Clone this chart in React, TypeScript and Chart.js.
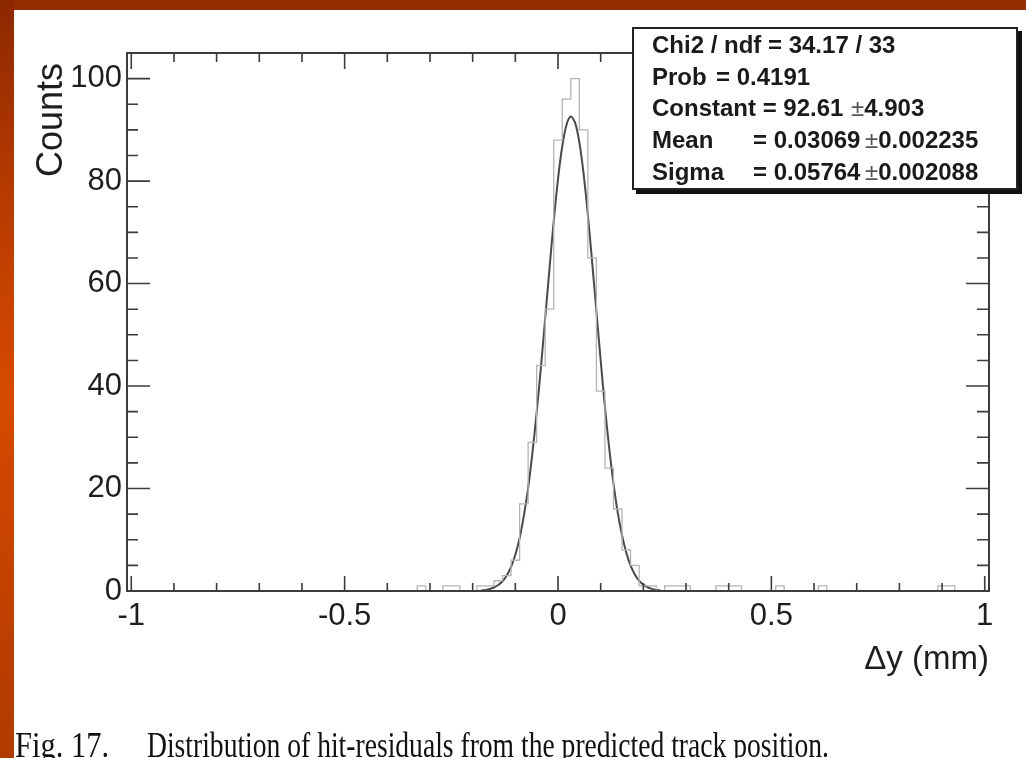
import React, { useEffect, useLayoutEffect, useRef, useState } from "react";
import { Chart, registerables } from "chart.js";

Chart.register(...registerables);

// ---------------- data ----------------
const X_MIN = -1.01;
const X_MAX = 1.01;
const Y_MIN = 0;
const Y_MAX = 105;
const BIN_WIDTH = 0.02;
const N_BINS = 101;

// non-empty histogram bins (bin centres) and their counts
const histCenters = [
  -0.32, -0.26, -0.24, -0.18, -0.16, -0.14, -0.12, -0.1, -0.08, -0.06, -0.04, -0.02,
  0, 0.02, 0.04, 0.06, 0.08, 0.1, 0.12, 0.14, 0.16, 0.18, 0.2, 0.22, 0.26, 0.28, 0.3,
  0.38, 0.4, 0.42, 0.52, 0.62, 0.9, 0.92,
];
const histCounts = [
  1, 1, 1, 1, 1, 2, 3, 6, 17, 29, 44, 55,
  88, 96, 100, 90, 65, 39, 24, 16, 8, 5, 1, 1, 1, 1, 1,
  1, 1, 1, 1, 1, 1, 1,
];

// Gaussian fit curve, read at 0.01 steps from -0.18 to 0.24
const FIT_X_START = -0.18;
const FIT_X_STEP = 0.01;
const fitValues = [
  0.12, 0.22, 0.39, 0.68, 1.16, 1.9, 3.04, 4.71, 7.09, 10.3, 14.7, 20.1, 26.9, 34.8,
  43.7, 53.2, 62.9, 72.2, 80.4, 86.8, 91.0, 92.6, 91.4, 87.6, 81.4, 73.4, 64.2, 54.6,
  45.0, 35.9, 27.9, 21.0, 15.3, 10.9, 7.49, 4.99, 3.23, 2.03, 1.24, 0.73, 0.42, 0.23, 0.13,
];

const xTickLabels = [-1, -0.5, 0, 0.5, 1];
const yTickLabels = [0, 20, 40, 60, 80, 100];
const xMinorStep = 0.1;
const yMinorStep = 5;

const statRows = [
  { name: "Chi2 / ndf = 34.17 / 33", eq: "", err: "" },
  { name: "Prob", eq: "= 0.4191", err: "" },
  { name: "Constant = 92.61", eq: "", err: "\u00b14.903" },
  { name: "Mean", eq: "= 0.03069", err: "\u00b10.002235" },
  { name: "Sigma", eq: "= 0.05764", err: "\u00b10.002088" },
];

const xTitle = "\u0394y (mm)";
const yTitle = "Counts ";
const captionFig = "Fig. 17.";
const captionText = "Distribution of hit-residuals from the predicted track position.";

// ---------------- layout ----------------
const W = 1026;
const H = 758;
const AREA_LEFT = 127;
const AREA_TOP = 53;
const AREA_RIGHT = 989;
const AREA_BOTTOM = 591;
const X_SCALE_H = 95;

const SANS = "'Liberation Sans', Arial, Helvetica, sans-serif";
const SERIF = "'Liberation Serif', 'Times New Roman', serif";

const framePlugin = {
  id: "rootFrame",
  afterDatasetsDraw(chart: any) {
    const { ctx, chartArea } = chart;
    const xs = chart.scales.x;
    const ys = chart.scales.y;
    const { left, right, top, bottom } = chartArea;
    ctx.save();
    ctx.strokeStyle = "#3c3c3c";
    ctx.lineWidth = 2;
    ctx.strokeRect(left, top, right - left, bottom - top);
    ctx.lineWidth = 1.6;
    ctx.beginPath();
    for (let v = -1; v <= 1.0001; v += xMinorStep) {
      const val = Math.round(v * 10) / 10;
      const major = xTickLabels.some((t) => Math.abs(t - val) < 1e-6);
      const px = xs.getPixelForValue(val);
      const lb = major ? 15 : 8;
      const lt = major ? 16 : 9;
      ctx.moveTo(px, bottom);
      ctx.lineTo(px, bottom - lb);
      ctx.moveTo(px, top);
      ctx.lineTo(px, top + lt);
    }
    for (let v = 0; v <= Y_MAX; v += yMinorStep) {
      const major = yTickLabels.includes(v);
      const py = ys.getPixelForValue(v);
      const ll = major ? 23 : 11;
      const lr = major ? 23 : 12;
      ctx.moveTo(left, py);
      ctx.lineTo(left + ll, py);
      ctx.moveTo(right, py);
      ctx.lineTo(right - lr, py);
    }
    ctx.stroke();
    ctx.restore();
  },
};

function FitText(props: {
  text: string;
  left: number;
  top: number;
  width: number;
  size: number;
  family: string;
  weight?: string;
  color?: string;
}) {
  const { text, left, top, width, size, family, weight = "normal", color = "#111" } = props;
  const [sx, setSx] = useState(1);
  useLayoutEffect(() => {
    const c = document.createElement("canvas").getContext("2d");
    if (!c) return;
    c.font = `${weight} ${size}px ${family}`;
    const w = c.measureText(text).width;
    if (w > 0) setSx(width / w);
  }, [text, width, size, family, weight]);
  return (
    <span
      style={{
        position: "absolute",
        left,
        top,
        fontSize: size,
        fontFamily: family,
        fontWeight: weight as any,
        lineHeight: "1",
        whiteSpace: "pre",
        color,
        transform: `scaleX(${sx})`,
        transformOrigin: "0 0",
      }}
    >
      {text}
    </span>
  );
}

export default function App() {
  const canvasRef = useRef<HTMLCanvasElement>(null);

  useEffect(() => {
    if (!canvasRef.current) return;
    const counts: number[] = new Array(N_BINS).fill(0);
    histCenters.forEach((c, i) => {
      const idx = Math.round((c - (X_MIN + BIN_WIDTH / 2)) / BIN_WIDTH);
      if (idx >= 0 && idx < N_BINS) counts[idx] = histCounts[i];
    });
    const histPoints = counts.map((c, i) => ({ x: X_MIN + i * BIN_WIDTH, y: c }));
    histPoints.push({ x: X_MAX, y: counts[N_BINS - 1] });
    const fitPoints = fitValues.map((v, i) => ({ x: FIT_X_START + i * FIT_X_STEP, y: v }));

    const chart = new Chart(canvasRef.current, {
      type: "line",
      data: {
        datasets: [
          {
            data: histPoints,
            stepped: true,
            borderColor: "#b4b4b4",
            borderWidth: 1.3,
            pointRadius: 0,
            fill: false,
          },
          {
            data: fitPoints,
            borderColor: "#4a4a4a",
            borderWidth: 2,
            pointRadius: 0,
            tension: 0.3,
            fill: false,
          },
        ],
      },
      options: {
        animation: false,
        responsive: false,
        maintainAspectRatio: false,
        layout: {
          padding: {
            left: 0,
            top: AREA_TOP,
            right: W - AREA_RIGHT,
            bottom: H - AREA_BOTTOM - X_SCALE_H,
          },
        },
        plugins: { legend: { display: false }, tooltip: { enabled: false } },
        scales: {
          x: {
            type: "linear",
            min: X_MIN,
            max: X_MAX,
            grid: { display: false, drawTicks: false },
            border: { display: false },
            afterBuildTicks: (s: any) => {
              s.ticks = xTickLabels.map((v) => ({ value: v }));
            },
            afterFit: (s: any) => {
              s.height = X_SCALE_H;
            },
            ticks: {
              autoSkip: false,
              maxRotation: 0,
              padding: 7,
              color: "#1e1e1e",
              font: { family: SANS, size: 31 },
              callback: (v: any) => String(v),
            },
            title: {
              display: true,
              text: xTitle,
              align: "end",
              color: "#1e1e1e",
              font: { family: SANS, size: 33 },
              padding: { top: 0, bottom: 6 },
            },
          },
          y: {
            type: "linear",
            min: Y_MIN,
            max: Y_MAX,
            grid: { display: false, drawTicks: false },
            border: { display: false },
            afterBuildTicks: (s: any) => {
              s.ticks = yTickLabels.map((v) => ({ value: v }));
            },
            afterFit: (s: any) => {
              s.width = AREA_LEFT;
            },
            ticks: {
              autoSkip: false,
              padding: 5,
              color: "#1e1e1e",
              font: { family: SANS, size: 31 },
              callback: (v: any) => String(v),
            },
            title: {
              display: true,
              text: yTitle,
              align: "end",
              color: "#1e1e1e",
              font: { family: SANS, size: 36 },
              padding: { top: 30, bottom: 0 },
            },
          },
        },
      } as any,
      plugins: [framePlugin],
    });
    return () => chart.destroy();
  }, []);

  // vertical centres of the stat rows (page coordinates)
  const rowCenters = [45, 77, 108, 140, 172];
  const boxTop = 27;
  const boxLeft = 632;
  const rowTop = (i: number) => rowCenters[i] - boxTop - 2 - 14;

  return (
    <div
      style={{
        position: "fixed",
        left: 0,
        top: 0,
        width: W,
        height: H,
        overflow: "hidden",
        background: "#ffffff",
      }}
    >
      <canvas
        ref={canvasRef}
        width={W}
        height={H}
        style={{ position: "absolute", left: 0, top: 0, width: W, height: H, display: "block" }}
      />
      <div
        style={{
          position: "absolute",
          left: 0,
          top: 0,
          width: W,
          height: 10,
          background: "#952e00",
        }}
      />
      <div
        style={{
          position: "absolute",
          left: 0,
          top: 0,
          width: 14,
          height: H,
          background:
            "linear-gradient(to bottom, #8c2800 0%, #b63a00 25%, #d64a00 52%, #c44200 75%, #b03a00 100%)",
        }}
      />
      <div
        style={{
          position: "absolute",
          left: boxLeft,
          top: boxTop,
          width: 382,
          height: 159,
          background: "#ffffff",
          border: "2px solid #222",
          boxShadow: "4px 4px 0 #111",
          fontFamily: SANS,
          fontWeight: "bold",
          fontSize: 24,
          color: "#1a1a1a",
        }}
      >
        {statRows.map((r, i) => (
          <React.Fragment key={i}>
            <span
              style={{ position: "absolute", left: 18, top: rowTop(i), lineHeight: "28px", whiteSpace: "pre" }}
            >
              {r.name}
            </span>
            {r.eq ? (
              <span
                style={{
                  position: "absolute",
                  left: i === 1 ? 82 : 119,
                  top: rowTop(i),
                  lineHeight: "28px",
                  whiteSpace: "pre",
                }}
              >
                {r.eq}
              </span>
            ) : null}
            {r.err ? (
              <span
                style={{
                  position: "absolute",
                  left: i === 2 ? 217 : 231,
                  top: rowTop(i),
                  lineHeight: "28px",
                  whiteSpace: "pre",
                }}
              >
                <span style={{ fontWeight: "normal", color: "#555" }}>{r.err.charAt(0)}</span>
                {r.err.slice(1)}
              </span>
            ) : null}
          </React.Fragment>
        ))}
      </div>
      <FitText text={captionFig} left={15} top={727} width={94} size={36} family={SERIF} />
      <FitText text={captionText} left={147} top={727} width={682} size={36} family={SERIF} />
    </div>
  );
}
